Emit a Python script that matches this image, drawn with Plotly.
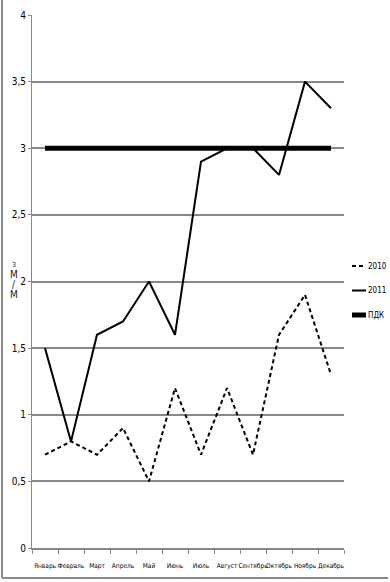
import plotly.graph_objects as go

months = ["Январь", "Февраль", "Март", "Апрель", "Май", "Июнь",
          "Июль", "Август", "Сентябрь", "Октябрь", "Ноябрь", "Декабрь"]
s2010 = [0.7, 0.8, 0.7, 0.9, 0.5, 1.2, 0.7, 1.2, 0.7, 1.6, 1.9, 1.3]
s2011 = [1.5, 0.8, 1.6, 1.7, 2.0, 1.6, 2.9, 3.0, 3.0, 2.8, 3.5, 3.3]
pdk = [3.0] * 12
y_ticks = [0, 0.5, 1, 1.5, 2, 2.5, 3, 3.5, 4]
series_names = ["2010", "2011", "ПДК"]

W, H = 390, 582
L, R, T, B = 32, 46, 15, 34

styles = [dict(color="black", width=2, dash="4px,3px"),
          dict(color="black", width=2),
          dict(color="black", width=5)]

fig = go.Figure()
for name, vals, st in zip(series_names, [s2010, s2011, pdk], styles):
    fig.add_trace(go.Scatter(x=months, y=vals, name=name, mode="lines", line=st))

pw = W - L - R
ph = H - T - B
font = "DejaVu Sans Condensed, Liberation Sans Narrow, Arial Narrow, sans-serif"

fig.update_layout(
    width=W, height=H,
    margin=dict(l=L, r=R, t=T, b=B, pad=0),
    paper_bgcolor="white", plot_bgcolor="white",
    separators=", ",
    font=dict(family=font, size=10, color="black"),
    showlegend=False,
    xaxis=dict(type="category", range=[-0.5, 11.5], showgrid=False,
               showline=True, linecolor="#888", linewidth=2,
               ticks="outside", ticklen=4, tickcolor="#888",
               tickson="boundaries", tickangle=0, automargin=False,
               ticklabelstandoff=10,
               tickfont=dict(size=6.5, family=font), fixedrange=True),
    yaxis=dict(range=[0, 4], tickvals=y_ticks, showgrid=True,
               gridcolor="#888", gridwidth=1.5, automargin=False,
               showline=True, linecolor="#888", linewidth=1,
               ticks="outside", ticklen=3, tickcolor="#888",
               tickfont=dict(size=10, family=font), zeroline=False,
               fixedrange=True),
)

def px_x(x):
    return (x - L) / pw

def px_y(y):
    return (H - B - y) / ph

# outer frame lines (left and bottom)
fig.add_shape(type="line", xref="paper", yref="paper",
              x0=px_x(2), x1=px_x(2), y0=px_y(578), y1=px_y(0),
              line=dict(color="#888", width=2))
fig.add_shape(type="line", xref="paper", yref="paper",
              x0=px_x(2), x1=px_x(388), y0=px_y(578), y1=px_y(578),
              line=dict(color="#888", width=2))

# manual legend
for i, (name, st) in enumerate(zip(series_names, styles)):
    yy = 266 + i * 24.5
    fig.add_shape(type="line", xref="paper", yref="paper",
                  x0=px_x(352), x1=px_x(366), y0=px_y(yy), y1=px_y(yy), line=st)
    fig.add_annotation(text=name, xref="paper", yref="paper",
                       x=px_x(366), y=px_y(yy), showarrow=False,
                       xanchor="left", yanchor="middle",
                       font=dict(size=8, family=font, color="black"))

# stacked axis title
for ch, yy, sz in [("3", 265, 7), ("М", 274, 10), ("/", 284, 10), ("М", 295, 10)]:
    fig.add_annotation(text=ch, xref="paper", yref="paper",
                       x=px_x(14), y=px_y(yy),
                       showarrow=False, font=dict(size=sz, family=font, color="#123"),
                       xanchor="center", yanchor="middle")

fig.write_html("out.html")
